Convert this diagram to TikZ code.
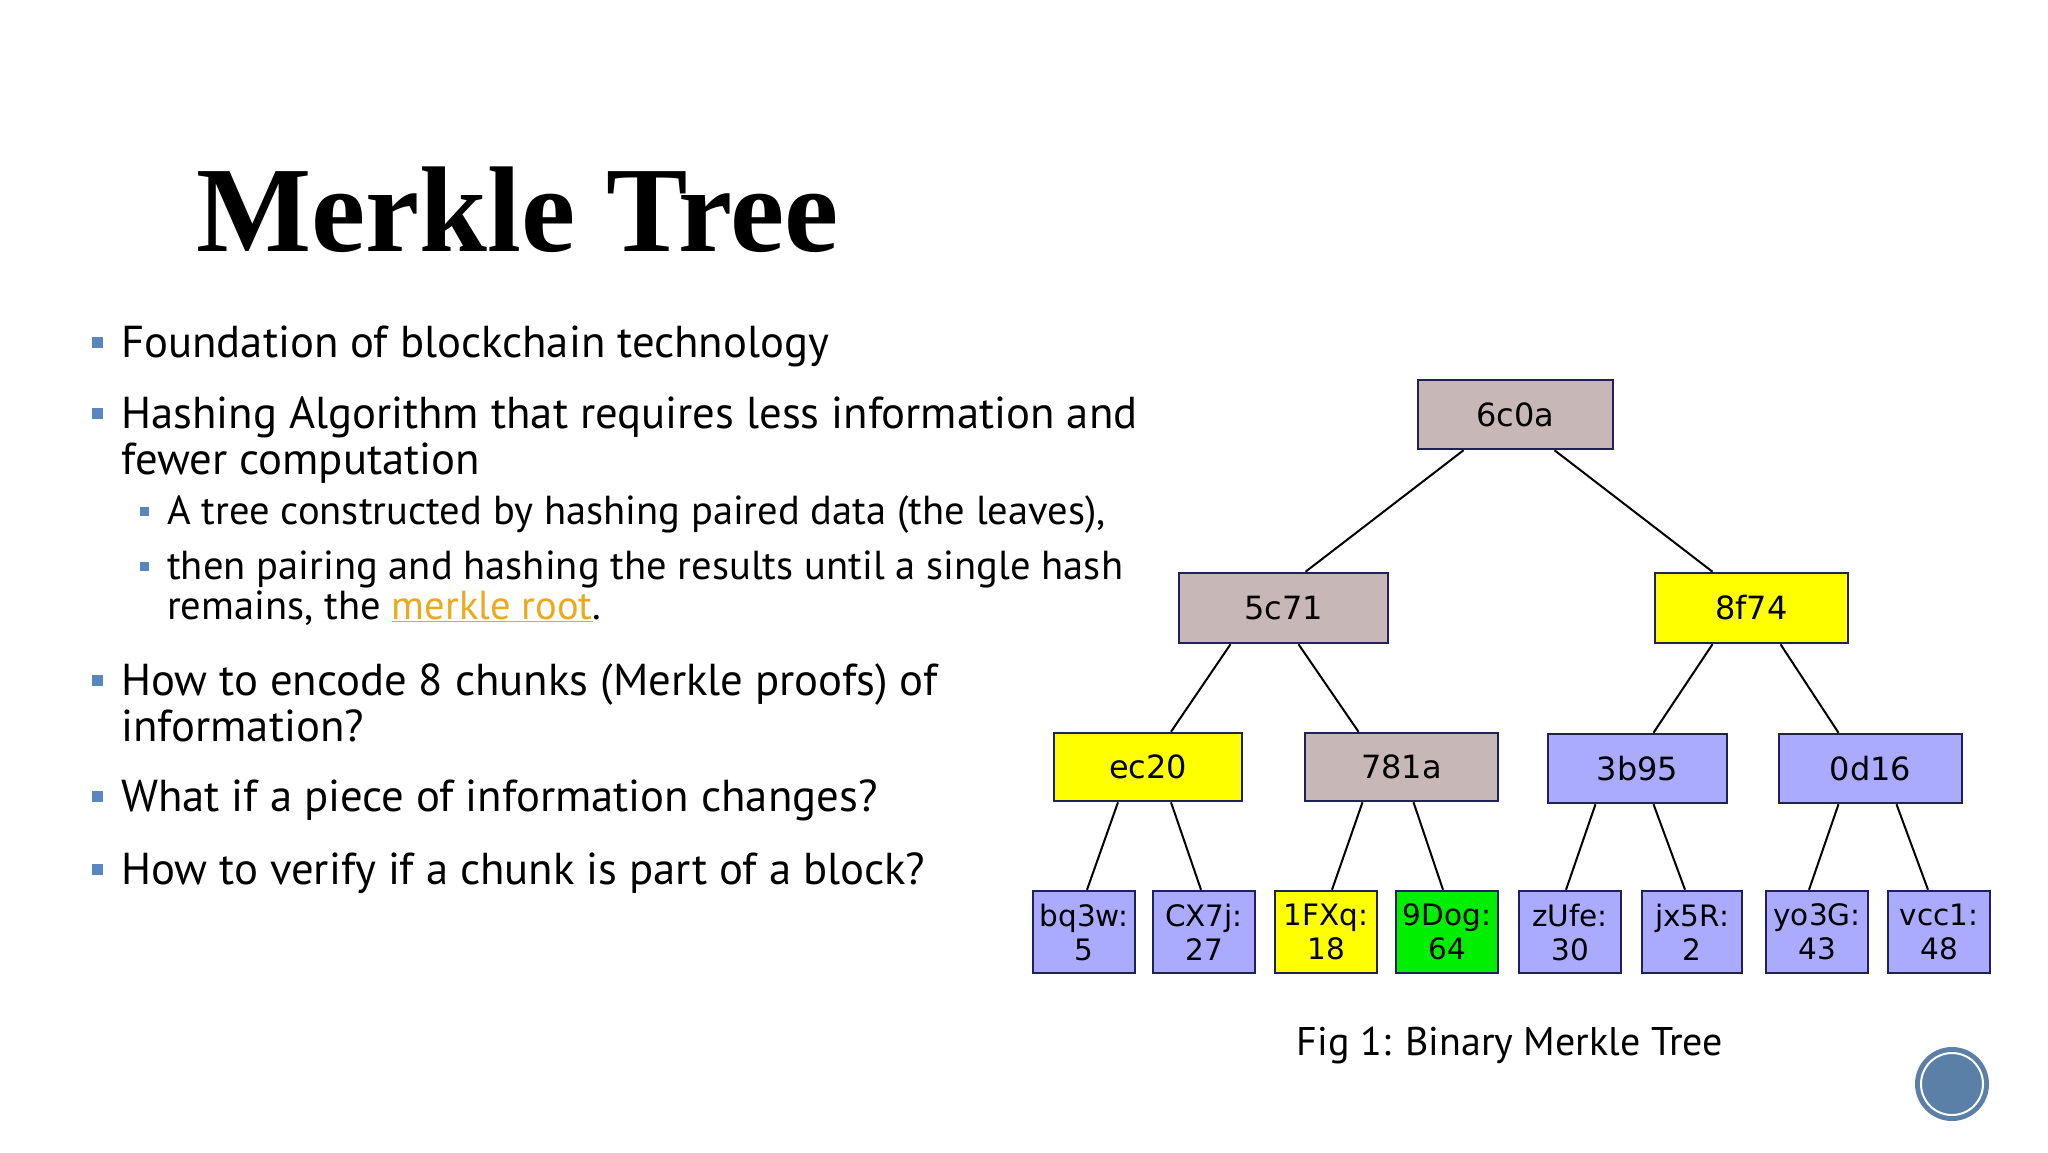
\documentclass[tikz,border=0pt]{standalone}
\usepackage{fontspec}
\setmainfont{PT Sans}
\newfontfamily\dejavu{DejaVu Sans}
\newfontfamily\titlefont{Liberation Serif}
\usetikzlibrary{calc}
\definecolor{pinkgray}{HTML}{C8B7B7}
\definecolor{lav}{HTML}{AAAAFF}
\definecolor{yel}{HTML}{FFFF00}
\definecolor{grn}{HTML}{00EE00}
\definecolor{navyb}{HTML}{20205A}
\definecolor{bulc}{HTML}{5887C0}
\definecolor{linkc}{HTML}{EBAA1E}
\definecolor{circc}{HTML}{5A80A8}
\tikzset{
  hashbox/.style={draw=navyb, line width=2.5pt, rectangle, inner sep=0pt,
    font=\dejavu\fontsize{32}{34}\selectfont, align=center},
  leafbox/.style={hashbox, minimum width=102pt, minimum height=82pt,
    font=\dejavu\fontsize{29.5}{34}\selectfont},
  edge/.style={draw=black, line width=2pt},
  bul/.style={fill=bulc, minimum size=11pt, inner sep=0pt},
  subbul/.style={fill=bulc, minimum size=9pt, inner sep=0pt},
  maintext/.style={anchor=base west, inner sep=0pt, align=left,
    font=\fontsize{44.7}{46}\selectfont},
  subtext/.style={anchor=base west, inner sep=0pt, align=left,
    font=\fontsize{40.5}{41}\selectfont},
}
\begin{document}
\begin{tikzpicture}[x=1pt,y=-1pt]
\useasboundingbox[fill=white] (0,0) rectangle (2048,1152);

% title
\node[anchor=base west, inner sep=0pt, font=\titlefont\bfseries\fontsize{122}{126}\selectfont] (title) at (196,251) {Merkle Tree};

% bullets
\node[bul] (b1) at (97.5,342) {};
\node[maintext] (t1) at (121,357) {Foundation of blockchain technology};
\node[bul] (b2) at (97.5,413) {};
\node[maintext] (t2) at (121,428) {Hashing Algorithm that requires less information and};
\node[maintext] (t2b) at (121,474) {fewer computation};
\node[subbul] (s1) at (144,511) {};
\node[subtext] (u1) at (167,524) {A tree constructed by hashing paired data (the leaves),};
\node[subbul] (s2) at (144,566) {};
\node[subtext] (u2) at (167,579) {then pairing and hashing the results until a single hash};
\node[subtext] (u2b) at (167,619) {remains, the {\color{linkc}\underline{merkle root}}.};
\node[bul] (b3) at (97.5,680) {};
\node[maintext] (t3) at (121,695) {How to encode 8 chunks (Merkle proofs) of};
\node[maintext] (t3b) at (121,741) {information?};
\node[bul] (b4) at (97.5,796) {};
\node[maintext] (t4) at (121,811) {What if a piece of information changes?};
\node[bul] (b5) at (97.5,869) {};
\node[maintext] (t5) at (121,884) {How to verify if a chunk is part of a block?};

% tree
\node[hashbox, fill=pinkgray, minimum width=195pt, minimum height=69pt] (r) at (1515.5,414.5) {6c0a};
\node[hashbox, fill=pinkgray, minimum width=209pt, minimum height=70pt] (a) at (1283.5,608) {5c71};
\node[hashbox, fill=yel, minimum width=193pt, minimum height=70pt] (b) at (1751.5,608) {8f74};
\node[hashbox, fill=yel, minimum width=188pt, minimum height=68pt] (aa) at (1148,767) {ec20};
\node[hashbox, fill=pinkgray, minimum width=193pt, minimum height=68pt] (ab) at (1401.5,767) {781a};
\node[hashbox, fill=lav, minimum width=179pt, minimum height=69pt] (ba) at (1637.5,768.5) {3b95};
\node[hashbox, fill=lav, minimum width=183pt, minimum height=69pt] (bb) at (1870.5,768.5) {0d16};

\node[leafbox, fill=lav] (l1) at (1084,932) {bq3w:\\5};
\node[leafbox, fill=lav] (l2) at (1204,932) {CX7j:\\27};
\node[leafbox, fill=yel] (l3) at (1326,932) {1FXq:\\18};
\node[leafbox, fill=grn] (l4) at (1447,932) {9Dog:\\64};
\node[leafbox, fill=lav] (l5) at (1570,932) {zUfe:\\30};
\node[leafbox, fill=lav, minimum width=100pt] (l6) at (1692,932) {jx5R:\\2};
\node[leafbox, fill=lav] (l7) at (1817,932) {yo3G:\\43};
\node[leafbox, fill=lav] (l8) at (1939,932) {vcc1:\\48};

\draw[edge] ([xshift=-52pt]r.south) -- ([xshift=22pt]a.north);
\draw[edge] ([xshift=39pt]r.south) -- ([xshift=-39pt]b.north);
\draw[edge] ([xshift=-53pt]a.south) -- ([xshift=23pt]aa.north);
\draw[edge] ([xshift=15pt]a.south) -- ([xshift=-43pt]ab.north);
\draw[edge] ([xshift=-39pt]b.south) -- ([xshift=16pt]ba.north);
\draw[edge] ([xshift=29pt]b.south) -- ([xshift=-32pt]bb.north);
\draw[edge] ([xshift=-30pt]aa.south) -- ([xshift=3pt]l1.north);
\draw[edge] ([xshift=23pt]aa.south) -- ([xshift=-3pt]l2.north);
\draw[edge] ([xshift=-39pt]ab.south) -- ([xshift=6pt]l3.north);
\draw[edge] ([xshift=12pt]ab.south) -- ([xshift=-4pt]l4.north);
\draw[edge] ([xshift=-42pt]ba.south) -- ([xshift=-4pt]l5.north);
\draw[edge] ([xshift=16pt]ba.south) -- ([xshift=-7pt]l6.north);
\draw[edge] ([xshift=-32pt]bb.south) -- ([xshift=-8pt]l7.north);
\draw[edge] ([xshift=26pt]bb.south) -- ([xshift=-11pt]l8.north);

% caption
\node[anchor=base, inner sep=0pt, font=\fontsize{40}{42}\selectfont] (cap) at (1510,1055) {Fig 1: Binary Merkle Tree};

% decorative circle
\fill[circc] (1952,1084) circle (37);
\draw[white, line width=2pt] (1952,1084) circle (31);
\end{tikzpicture}
\end{document}
